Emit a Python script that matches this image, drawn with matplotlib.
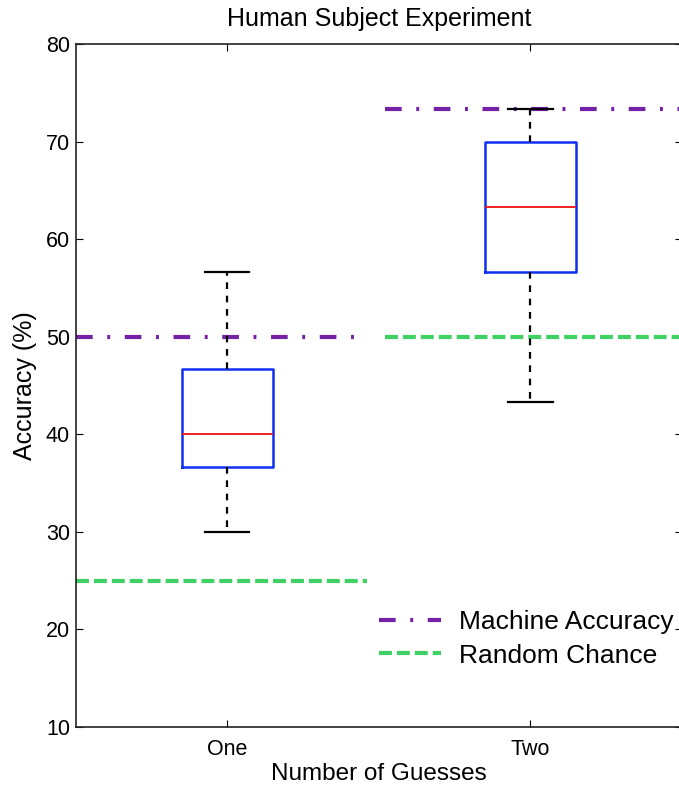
import matplotlib.pyplot as plt
import numpy as np

plt.rcParams["font.family"] = ["Liberation Sans", "DejaVu Sans"]

groups = ["One", "Two"]
whisker_low = [30.0, 43.33]
quart_low = [36.67, 56.67]
medians = [40.0, 63.33]
quart_high = [46.67, 70.0]
whisker_high = [56.67, 73.33]

machine_acc = [50.0, 73.33]
random_chance = [25.0, 50.0]

# horizontal extent of each reference line segment, per group
spans = [(0.5, 1.46), (1.52, 2.5)]

PURPLE = "#7322a8"
GREEN = "#3fd164"

fig = plt.figure(figsize=(6.79, 7.86), dpi=100)
ax = fig.add_axes([75.5 / 679, 59 / 786, 606.5 / 679, 683 / 786])

stats = []
for i, g in enumerate(groups):
    stats.append({
        "label": g,
        "whislo": whisker_low[i],
        "q1": quart_low[i],
        "med": medians[i],
        "q3": quart_high[i],
        "whishi": whisker_high[i],
        "fliers": [],
    })

pos = np.arange(1, len(groups) + 1)

# reference lines first so the boxes sit on top
for i in range(len(groups)):
    x0, x1 = spans[i]
    ax.plot([x0, x1], [machine_acc[i]] * 2, color=PURPLE, lw=3,
            linestyle=(0, (4, 3.5, 0.7, 3.5)), zorder=2,
            label="Machine Accuracy" if i == 0 else None)
    ax.plot([x0, x1], [random_chance[i]] * 2, color=GREEN, lw=3,
            linestyle=(0, (3.1, 1.2)), zorder=2,
            label="Random Chance" if i == 0 else None)

ax.bxp(stats, positions=pos, widths=0.3, showfliers=False,
       boxprops=dict(color="#1030f0", lw=1.8),
       medianprops=dict(color="#ee1010", lw=1.3),
       whiskerprops=dict(color="black", lw=1.6, linestyle=(0, (3, 3))),
       capprops=dict(color="black", lw=1.6),
       capwidths=0.146, zorder=3)

ax.set_xlim(0.5, 2.5)
ax.set_ylim(10, 80)
ax.set_yticks(np.arange(10, 81, 10))
ax.set_xticks(pos)
ax.set_xticklabels(groups)
ax.tick_params(direction="in", length=5, labelsize=15.5, top=True, right=True,
               width=0.8)
ax.tick_params(axis="x", pad=8.5)
ax.tick_params(axis="y", pad=4)

for s in ax.spines.values():
    s.set_linewidth(1.2)
    s.set_color("#222222")

ax.set_title("Human Subject Experiment", fontsize=18, pad=13)
ax.set_xlabel("Number of Guesses", fontsize=17.5, labelpad=2)
ax.set_ylabel("Accuracy (%)", fontsize=18, labelpad=6)

ax.legend(loc="upper left", bbox_to_anchor=(0.5, 0.1706), frameon=False,
          fontsize=19, handlelength=2.35, handletextpad=0.68,
          borderpad=0, borderaxespad=0, labelspacing=0.35)

fig.savefig("out.png", dpi=100)
